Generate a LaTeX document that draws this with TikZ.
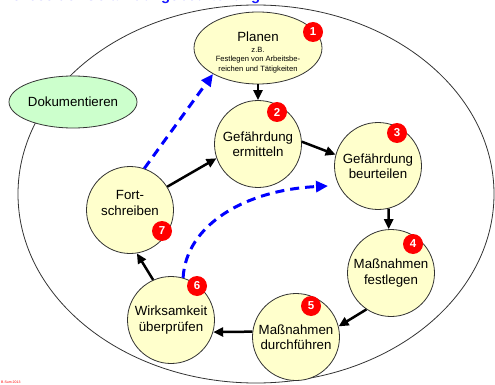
\documentclass[tikz,border=0pt]{standalone}
\usepackage{fontspec}
\setmainfont{Liberation Sans}
\usetikzlibrary{arrows.meta,shapes.geometric}
\definecolor{nodeyellow}{HTML}{FFFFCC}
\definecolor{nodegreen}{HTML}{CCFFCC}
\definecolor{edgegray}{HTML}{333333}
\definecolor{titleblue}{HTML}{1A1AFF}
\begin{document}
\begin{tikzpicture}[x=1pt,y=-1pt,
  stepcirc/.style={circle, draw=edgegray, line width=0.8pt, fill=nodeyellow,
    minimum size=87pt, inner sep=0pt, align=center,
    font=\fontsize{13.3}{15.5}\selectfont},
  badge/.style={circle, fill=red, minimum size=20pt, inner sep=0pt,
    text=white, font=\fontsize{11.5}{11.5}\selectfont\bfseries},
  flow/.style={line width=2.5pt, -{Triangle[length=10pt,width=9pt]}},
  feedback/.style={draw=blue, line width=3pt, dash pattern=on 9pt off 6pt,
    -{Triangle[length=12pt,width=11pt]}},
  lbl/.style={inner sep=0pt, align=center, font=\fontsize{13.3}{15.5}\selectfont}]
\useasboundingbox (0,0) rectangle (495,385);
\clip (0,0) rectangle (495,385);

% title (cut off at top)
\node[anchor=base west, inner sep=0pt, text=titleblue,
  font=\fontsize{15}{15}\selectfont\bfseries] (title) at (-4,1) {Prozess der Gefährdungsbeurteilung};

% outer frame ellipse
\node[ellipse, draw=edgegray, line width=0.8pt, minimum width=476pt, minimum height=378pt,
  inner sep=0pt] (frame) at (256,194) {};

% Dokumentieren
\node[ellipse, draw=edgegray, line width=0.8pt, fill=nodegreen, minimum width=128pt,
  minimum height=52pt, inner sep=0pt, font=\fontsize{13.3}{15.5}\selectfont] (doc) at (73,102) {Dokumentieren};

% Planen
\node[ellipse, draw=edgegray, line width=0.8pt, fill=nodeyellow, minimum width=128pt,
  minimum height=72pt, inner sep=0pt] (planen) at (258,48) {};
\node[anchor=base, inner sep=0pt, font=\fontsize{13.3}{15.5}\selectfont] (planentitle) at (258,42) {Planen};
\node[anchor=north, inner sep=0pt, align=center, font=\fontsize{7.6}{9.5}\selectfont] (planensub) at (258,46.8)
  {z.B.\\Festlegen von Arbeitsbe-\\reichen und Tätigkeiten};

% steps
\node[stepcirc] (c2) at (258,144) {Gefährdung\\ermitteln};
\node[stepcirc] (c3) at (378,166) {Gefährdung\\beurteilen};
\node[stepcirc] (c4) at (391,273) {Maßnahmen\\festlegen};
\node[stepcirc] (c5) at (296,337) {Maßnahmen\\durchführen};
\node[stepcirc] (c6) at (171,320) {Wirksamkeit\\überprüfen};
\node[stepcirc] (c7) at (130,210) {};
\node[lbl] (c7text) at (130,203) {Fort-\\schreiben};

% badges
\node[badge] (b1) at (313,32) {1};
\node[badge] (b2) at (277,112) {2};
\node[badge] (b3) at (397,133) {3};
\node[badge] (b4) at (413,244) {4};
\node[badge] (b5) at (311,306) {5};
\node[badge] (b6) at (197,286) {6};
\node[badge] (b7) at (162,231) {7};

% black flow arrows
\draw[flow] (planen.south) -- (c2.north);
\draw[flow] (c2.3) -- (c3.165);
\draw[flow] (c3.-76) -- (c4.93);
\draw[flow] (c4.236) -- (c5.14);
\draw[flow] (c5.173) -- (c6.-16);
\draw[flow] (c6.114) -- (c7.-81);
\draw[flow] (c7.32) -- (c2.199);

% blue dashed feedback arrows
\coordinate (bend) at (328,186);
\draw[feedback] (c7.71) -- (planen.210);
\draw[feedback] (c6.74) .. controls (186,225) and (245,190) .. (bend);

% footer
\node[anchor=base west, inner sep=0pt, text=red, font=\fontsize{3.5}{3.5}\selectfont] (foot) at (1,383) {B.Sum 2013};
\end{tikzpicture}
\end{document}
